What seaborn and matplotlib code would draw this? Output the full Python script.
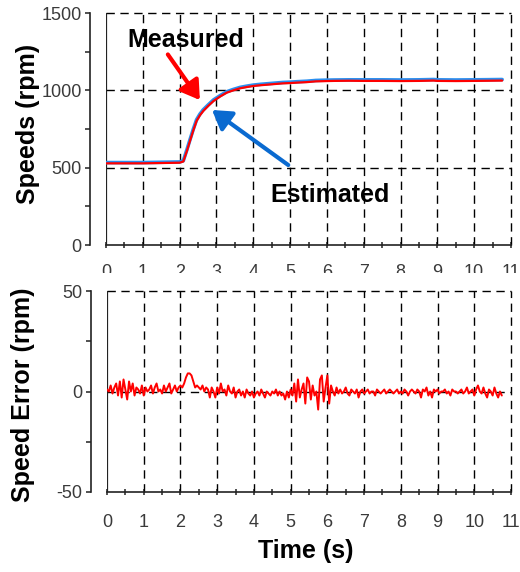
import numpy as np
import pandas as pd
import matplotlib
matplotlib.use("Agg")
import matplotlib.pyplot as plt
from matplotlib.patches import Rectangle
from matplotlib.ticker import MultipleLocator
import seaborn as sns

# ---------------- data ----------------
speed_time = [0.0, 0.5, 1.0, 1.5, 2.0, 2.1, 2.2, 2.28, 2.37, 2.46, 2.55, 2.64, 2.78, 2.92,
              3.1, 3.28, 3.46, 3.64, 3.82, 4.0, 4.2, 4.4, 4.6, 4.8, 5.0, 5.2, 5.45, 5.7,
              6.0, 6.2, 6.6, 7.0, 7.5, 8.0, 8.5, 8.9, 9.0, 9.5, 10.0, 10.4, 10.76]
measured = [528, 528, 528, 530, 532, 540, 610, 672, 740, 802, 838, 866, 900, 931,
            960, 985, 1000, 1013, 1021, 1028, 1033, 1037, 1041, 1045, 1047, 1050, 1053, 1058,
            1060, 1061, 1062, 1061, 1061, 1060, 1061, 1063, 1061, 1060, 1061, 1062, 1063]
estimated = [533, 533, 533, 535, 537, 545, 618, 680, 748, 810, 846, 874, 907, 938,
             966, 991, 1006, 1019, 1027, 1034, 1039, 1043, 1047, 1051, 1053, 1056, 1059, 1064,
             1066, 1067, 1068, 1068, 1068, 1067, 1068, 1070, 1068, 1067, 1068, 1069, 1070]

error_step = 0.05
speed_error = [
    1, 0, 3, -1, 2, 4, -2, 5, -3, 6, 1, -4, 5, 0, 4, -2, 2, 1, -1, 3,
    -2, 2, 0, 1, 3, -1, 2, 4, 0, 1, -1, 3, 0, 2, 4, -1, 1, 3, 0, 2,
    3, 2, 4, 7, 9, 9, 8, 5, 2, 3, 2, 1, 3, 0, 2, 1, -3, 2, 0, -3,
    2, -1, 4, 0, 1, -2, 3, 0, -1, 2, -3, 0, 1, -2, 0, -3, 1, -1, -2, 0,
    -3, -1, 0, -2, 1, -1, -3, 0, -1, -2, 0, -1, 1, -2, 0, -2, -1, -4, 0, -3,
    1, -2, 4, -5, 6, -3, 1, 4, -6, 7, 5, -4, 3, -2, 0, -9, 6, 8, -5, 2,
    8, -6, 3, 0, -2, 2, -1, 1, -1, 0, 2, -1, -2, 1, 0, -1, 1, -3, 0, 1,
    -1, 0, 1, -1, 0, 0, -2, 1, 0, -1, 0, 1, -1, 0, 1, 0, -1, 0, 1, -1,
    0, -1, 1, 0, -2, 0, 1, 0, -1, 1, 0, -3, 1, 0, 2, -2, 0, -3, 1, 0,
    1, -1, 0, 0, 1, -1, 0, -2, 1, 0, 0, -1, 0, 1, -1, 0, 2, -1, 0, 1,
    -2, 1, 3, 0, -1, 2, -1, -3, 1, 0, -2, 2, -1, -3, 0, -2,
]
error_time = [round(i * error_step, 2) for i in range(len(speed_error))]

x_ticks = list(range(0, 12))
speed_ticks = [0, 500, 1000, 1500]
error_ticks = [-50, 0, 50]

# ---------------- style ----------------
sns.set_style("ticks")
plt.rcParams["font.family"] = ["Liberation Sans", "DejaVu Sans"]
plt.rcParams["axes.unicode_minus"] = False
plt.rcParams["text.color"] = "black"

W, H = 520, 572
fig = plt.figure(figsize=(W / 100, H / 100), dpi=100)

def fbox(left, top, right, bottom):
    return [left / W, 1 - bottom / H, (right - left) / W, (bottom - top) / H]

ax1 = fig.add_axes(fbox(106, 13, 511, 245))
ax2 = fig.add_axes(fbox(107, 291, 511, 492))

RED = "#ff0000"
BLUE = "#2a8ff0"
GRID_LS = (0, (6, 4))

def style_axes(ax, yticks, yminor, xpad):
    ax.set_xlim(0, 11)
    ax.set_ylim(yticks[0], yticks[-1])
    ax.set_xticks(x_ticks)
    ax.set_yticks(yticks)
    ax.xaxis.set_minor_locator(MultipleLocator(0.5))
    ax.yaxis.set_minor_locator(MultipleLocator(yminor))
    for s in ["top", "right"]:
        ax.spines[s].set_visible(False)
    ax.spines["left"].set_position(("outward", 11.5))
    ax.spines["left"].set_linewidth(1.2)
    ax.spines["bottom"].set_linewidth(1.2)
    ax.spines["left"].set_color("#222222")
    ax.spines["bottom"].set_color("#222222")
    ax.tick_params(axis="x", which="both", direction="inout", length=5, width=1.1,
                   color="#222222", labelsize=13, labelcolor="#3a3a3a", pad=xpad)
    ax.tick_params(axis="y", which="both", direction="out", length=3.5, width=1.1,
                   color="#222222", labelsize=13, labelcolor="#3a3a3a", pad=2.5)
    ax.set_xlabel("")
    ax.set_ylabel("")
    # dashed grid
    for x in x_ticks[1:]:
        ax.axvline(x, color="black", lw=1.0, ls=GRID_LS, clip_on=False, zorder=1)
    for y in yticks[1:]:
        ax.axhline(y, color="black", lw=1.0, ls=GRID_LS, clip_on=False, zorder=1)
    ax.axvline(0, color="#222222", lw=1.6, zorder=3)

# ---------------- top: speeds ----------------
df_speed = pd.DataFrame({"t": speed_time, "measured": measured, "estimated": estimated})
sns.lineplot(data=df_speed, x="t", y="estimated", ax=ax1, color=BLUE, lw=2.6, zorder=4)
sns.lineplot(data=df_speed, x="t", y="measured", ax=ax1, color=RED, lw=1.6, zorder=5)
style_axes(ax1, speed_ticks, 250, 11)

ax1.text(2.17, 1280, "Measured", fontsize=18, fontweight="bold", ha="center",
         va="baseline", color="black", zorder=6)
ax1.text(6.09, 278, "Estimated", fontsize=18, fontweight="bold", ha="center",
         va="baseline", color="black", zorder=6)
ax1.annotate("", xy=(2.55, 937), xytext=(1.68, 1232),
             arrowprops=dict(arrowstyle="-|>,head_length=0.8,head_width=0.5",
                             mutation_scale=14, lw=3, color=RED, shrinkA=0, shrinkB=0),
             zorder=6)
ax1.annotate("", xy=(2.88, 873), xytext=(4.95, 517),
             arrowprops=dict(arrowstyle="-|>,head_length=0.8,head_width=0.5",
                             mutation_scale=14, lw=3, color="#0a6ad0", shrinkA=0, shrinkB=0),
             zorder=6)

# ---------------- bottom: speed error ----------------
df_err = pd.DataFrame({"t": error_time, "err": speed_error})
sns.lineplot(data=df_err, x="t", y="err", ax=ax2, color=RED, lw=1.4, zorder=5)
style_axes(ax2, error_ticks, 25, 13)

# mask lower half of upper x tick labels (as in the reference)
fig.add_artist(Rectangle((95 / W, 1 - 289 / H), (W - 95) / W, 16 / H,
                         transform=fig.transFigure, facecolor="white",
                         edgecolor="none", zorder=10))

fig.text(28 / W, 1 - 124 / H, "Speeds (rpm)", rotation=90, fontsize=18,
         fontweight="bold", ha="center", va="center", color="black")
fig.text(23 / W, 1 - 395 / H, "Speed Error (rpm)", rotation=90, fontsize=18,
         fontweight="bold", ha="center", va="center", color="black")
fig.text(306 / W, 1 - 551 / H, "Time (s)", fontsize=18, fontweight="bold",
         ha="center", va="center", color="black")

fig.savefig("out.png", dpi=100, facecolor="white")
